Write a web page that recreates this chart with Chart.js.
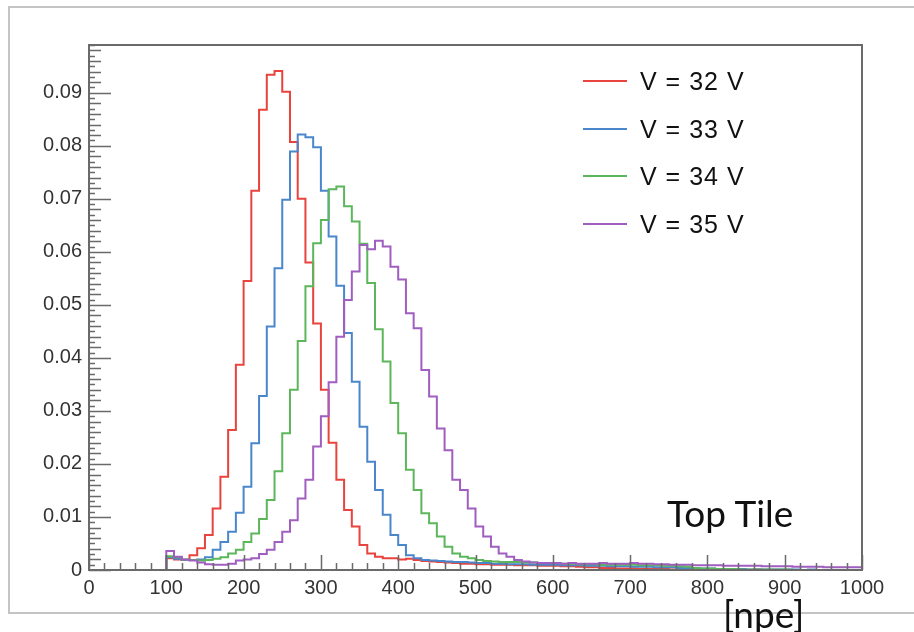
<!DOCTYPE html>
<html>
<head>
<meta charset="utf-8">
<script src="https://cdn.jsdelivr.net/npm/chart.js@4.4.1/dist/chart.umd.min.js"></script>
<style>
  body { margin: 0; background: #fff; }
  #wrap { position: relative; width: 914px; height: 632px; overflow: hidden; }
  #chart { position: absolute; left: 0; top: 0; }
  .outer { position: absolute; left: 8px; top: 6px; width: 920px; height: 604px;
           border-top: 2px solid #c4c4c4; border-left: 2px solid #c4c4c4; border-bottom: 2px solid #c4c4c4; }
  .legend-row { position: absolute; left: 583px; height: 30px; }
  .legend-row .swatch { position: absolute; left: 0; top: 14px; width: 44px; height: 2px; }
  .legend-row .txt { position: absolute; left: 57px; top: 0; white-space: nowrap;
           font: 25px "Liberation Sans", Arial, sans-serif; color: #111; line-height: 30px;
           letter-spacing: 1px; }
  .note { position: absolute; font-family: Lato, "Open Sans", sans-serif; font-size: 37px;
          line-height: 37px; color: #111; white-space: nowrap; }
</style>
</head>
<body>
<div id="wrap">
  <div class="outer"></div>
  <canvas id="chart" width="914" height="632"></canvas>
  <div id="legend"></div>
  <div class="note" style="left:667px; top:494px;">Top Tile</div>
  <div class="note" style="left:723px; top:595px;">[npe]</div>
</div>
<script>
// histogram binning: 90 bins of 10 npe from 100 to 1000
const binStart = 100;
const binWidth = 10;
const xMax = 1000;

const seriesLabels = ["V = 32 V", "V = 33 V", "V = 34 V", "V = 35 V"];
const seriesColors = ["#e8433d", "#4a86cc", "#5cb65c", "#a05ec0"];

const v32 = [
  0.0022, 0.0020, 0.0019, 0.0028, 0.0041, 0.0066, 0.0116, 0.0176, 0.0264, 0.0387,
  0.0545, 0.0715, 0.0868, 0.0934, 0.0941, 0.0902, 0.0807, 0.0700, 0.0580, 0.0465,
  0.0340, 0.0240, 0.0170, 0.0113, 0.0082, 0.0047, 0.0031, 0.0025, 0.0022, 0.0022,
  0.0020, 0.0021, 0.0019, 0.0017, 0.0016, 0.0015, 0.0014, 0.0013, 0.0012, 0.0012,
  0.0011, 0.0011, 0.0010, 0.0010, 0.0010, 0.0009, 0.0009, 0.0009, 0.0008, 0.0008,
  0.0008, 0.0007, 0.0007, 0.0006, 0.0005, 0.0005, 0.0004, 0.0004, 0.0003, 0.0003,
  0.0003, 0.0002, 0.0002, 0.0002, 0.0002, 0.0001, 0.0001, 0.0001, 0.0001, 0.0001,
  0.0001, 0.0001, 0, 0.0001, 0, 0, 0.0001, 0, 0, 0,
  0, 0, 0, 0, 0, 0, 0, 0, 0, 0
];
const v33 = [
  0.0024, 0.0021, 0.0019, 0.0019, 0.0020, 0.0024, 0.0038, 0.0053, 0.0072, 0.0108,
  0.0157, 0.0239, 0.0328, 0.0459, 0.0569, 0.0698, 0.0789, 0.0821, 0.0816, 0.0797,
  0.0715, 0.0629, 0.0536, 0.0447, 0.0355, 0.0270, 0.0204, 0.0151, 0.0104, 0.0066,
  0.0047, 0.0028, 0.0022, 0.0019, 0.0018, 0.0017, 0.0016, 0.0015, 0.0015, 0.0014,
  0.0013, 0.0013, 0.0012, 0.0012, 0.0011, 0.0011, 0.0011, 0.0010, 0.0010, 0.0010,
  0.0010, 0.0009, 0.0009, 0.0009, 0.0008, 0.0008, 0.0008, 0.0007, 0.0007, 0.0007,
  0.0006, 0.0006, 0.0006, 0.0005, 0.0005, 0.0005, 0.0004, 0.0004, 0.0003, 0.0003,
  0.0003, 0.0002, 0.0002, 0.0002, 0.0002, 0.0001, 0.0001, 0.0001, 0.0001, 0.0001,
  0.0001, 0.0001, 0, 0.0001, 0, 0, 0, 0, 0, 0
];
const v34 = [
  0.0026, 0.0024, 0.0020, 0.0019, 0.0018, 0.0019, 0.0021, 0.0024, 0.0031, 0.0038,
  0.0053, 0.0069, 0.0096, 0.0132, 0.0186, 0.0258, 0.0340, 0.0432, 0.0535, 0.0616,
  0.0660, 0.0718, 0.0723, 0.0686, 0.0657, 0.0615, 0.0541, 0.0454, 0.0393, 0.0315,
  0.0258, 0.0189, 0.0151, 0.0107, 0.0088, 0.0063, 0.0044, 0.0031, 0.0025, 0.0022,
  0.0019, 0.0017, 0.0016, 0.0015, 0.0015, 0.0015, 0.0014, 0.0014, 0.0013, 0.0013,
  0.0013, 0.0012, 0.0012, 0.0011, 0.0011, 0.0011, 0.0010, 0.0010, 0.0010, 0.0010,
  0.0010, 0.0009, 0.0009, 0.0009, 0.0008, 0.0008, 0.0007, 0.0006, 0.0004, 0.0003,
  0.0003, 0.0002, 0.0002, 0.0002, 0.0001, 0.0001, 0.0001, 0.0001, 0.0001, 0.0001,
  0.0001, 0, 0, 0, 0, 0, 0, 0, 0, 0
];
const v35 = [
  0.0036, 0.0025, 0.0020, 0.0018, 0.0014, 0.0011, 0.0010, 0.0010, 0.0012, 0.0018,
  0.0020, 0.0022, 0.0030, 0.0038, 0.0053, 0.0072, 0.0094, 0.0135, 0.0170, 0.0233,
  0.0290, 0.0354, 0.0440, 0.0509, 0.0563, 0.0613, 0.0605, 0.0621, 0.0610, 0.0572,
  0.0548, 0.0484, 0.0456, 0.0377, 0.0327, 0.0267, 0.0226, 0.0170, 0.0151, 0.0116,
  0.0082, 0.0063, 0.0044, 0.0031, 0.0025, 0.0019, 0.0016, 0.0014, 0.0013, 0.0013,
  0.0013, 0.0012, 0.0013, 0.0012, 0.0012, 0.0012, 0.0013, 0.0012, 0.0012, 0.0012,
  0.0013, 0.0012, 0.0012, 0.0011, 0.0011, 0.0010, 0.0010, 0.0010, 0.0009, 0.0009,
  0.0009, 0.0009, 0.0008, 0.0008, 0.0008, 0.0008, 0.0008, 0.0007, 0.0007, 0.0007,
  0.0007, 0.0006, 0.0006, 0.0006, 0.0006, 0.0005, 0.0005, 0.0005, 0.0005, 0.0005
];

const allSeries = [v32, v33, v34, v35];

// histogram outline: empty up to first bin, one point per bin edge
function toSteps(values) {
  const pts = [{ x: 0, y: 0 }];
  values.forEach((v, i) => pts.push({ x: binStart + i * binWidth, y: v }));
  pts.push({ x: xMax, y: values[values.length - 1] });
  return pts;
}

// ROOT style frame with inward ticks
const rootFrame = {
  id: "rootFrame",
  afterDatasetsDraw(chart) {
    const { ctx, chartArea: a, scales } = chart;
    const x = scales.x, y = scales.y;
    ctx.save();
    ctx.strokeStyle = "#6a6a6a";
    ctx.lineWidth = 1.5;
    ctx.beginPath();
    for (let i = 0; i <= 99; i++) {
      const py = Math.round(y.getPixelForValue(i / 1000)) + 0.5;
      const len = i % 10 === 0 ? 22 : (i % 2 === 0 ? 12 : 6);
      ctx.moveTo(a.left, py);
      ctx.lineTo(a.left + len, py);
    }
    for (let i = 0; i <= 50; i++) {
      const px = Math.round(x.getPixelForValue(i * 20)) + 0.5;
      const len = i % 5 === 0 ? 15 : 7;
      ctx.moveTo(px, a.bottom);
      ctx.lineTo(px, a.bottom - len);
    }
    ctx.stroke();
    ctx.lineWidth = 2;
    ctx.strokeRect(a.left, a.top, a.right - a.left, a.bottom - a.top);
    ctx.restore();
  }
};

const datasets = allSeries.map((vals, i) => ({
  label: seriesLabels[i],
  data: toSteps(vals),
  borderColor: seriesColors[i],
  backgroundColor: seriesColors[i],
  borderWidth: 2,
  pointRadius: 0,
  stepped: "before",
  fill: false,
  order: allSeries.length - 1 - i
}));

new Chart(document.getElementById("chart").getContext("2d"), {
  type: "line",
  data: { datasets },
  options: {
    responsive: false,
    animation: false,
    layout: { padding: { left: 0, right: 52, top: 45, bottom: 0 } },
    plugins: { legend: { display: false }, tooltip: { enabled: false } },
    scales: {
      x: {
        type: "linear",
        min: 0,
        max: xMax,
        grid: { display: false, drawTicks: false },
        border: { display: false },
        afterFit: s => { s.height = 62; },
        ticks: {
          stepSize: 100,
          autoSkip: false,
          maxRotation: 0,
          padding: 6,
          color: "#333",
          font: { family: "'Liberation Sans', Arial, sans-serif", size: 20 },
          callback: v => String(v)
        }
      },
      y: {
        min: 0,
        max: 0.099,
        grid: { display: false, drawTicks: false },
        border: { display: false },
        afterFit: s => { s.width = 89; },
        ticks: {
          stepSize: 0.01,
          includeBounds: false,
          padding: 7,
          color: "#333",
          font: { family: "'Liberation Sans', Arial, sans-serif", size: 20 },
          callback: v => (v === 0 ? "0" : v.toFixed(2))
        }
      }
    }
  },
  plugins: [rootFrame]
});

// legend, top right inside the frame
const legendEl = document.getElementById("legend");
seriesLabels.forEach((lab, i) => {
  const row = document.createElement("div");
  row.className = "legend-row";
  row.style.top = (66 + i * 47.5) + "px";
  row.innerHTML = '<span class="swatch" style="background:' + seriesColors[i] + '"></span><span class="txt">' + lab + '</span>';
  legendEl.appendChild(row);
});
</script>
</body>
</html>
